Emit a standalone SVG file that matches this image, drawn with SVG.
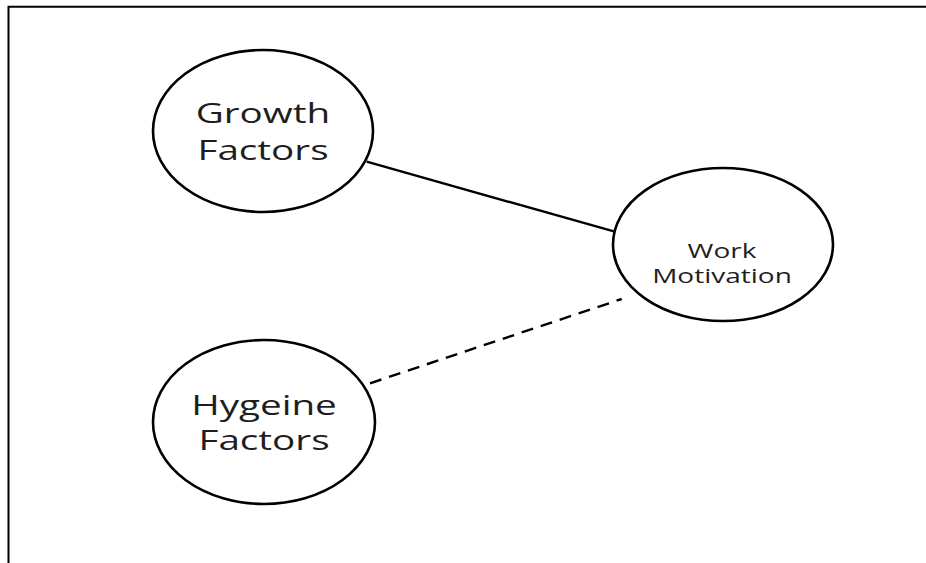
<svg xmlns="http://www.w3.org/2000/svg" width="926" height="563" viewBox="0 0 926 563">
  <style>
    .node { fill: #ffffff; stroke: #000000; stroke-width: 2.6; }
    .label { font-family: "Open Sans", "Liberation Sans", sans-serif; fill: #1e1e1e; text-anchor: middle; }
    .big { font-size: 28px; }
    .small { font-size: 20px; }
    .edge { stroke: #000000; stroke-width: 2.4; fill: none; }
    .dashed { stroke-dasharray: 12 8; }
  </style>
  <rect width="926" height="563" fill="#ffffff"/>
  <!-- open frame: top and left rules -->
  <path d="M8.5 563 V6.8 H926" fill="none" stroke="#000000" stroke-width="2"/>

  <g id="connectors">
    <line class="edge" x1="366.7" y1="161.7" x2="618.3" y2="232.7"/>
    <line class="edge dashed" x1="370" y1="383.3" x2="621.7" y2="299"/>
  </g>

  <g id="growth-factors">
    <ellipse class="node" cx="263" cy="131" rx="110" ry="81"/>
    <g transform="translate(263,0) scale(1.38,1)">
      <text class="label big" x="0" y="123">Growth</text>
      <text class="label big" x="0" y="160">Factors</text>
    </g>
  </g>

  <g id="hygeine-factors">
    <ellipse class="node" cx="264" cy="422" rx="111" ry="82"/>
    <g transform="translate(264,0) scale(1.38,1)">
      <text class="label big" x="0" y="415">Hygeine</text>
      <text class="label big" x="0" y="450">Factors</text>
    </g>
  </g>

  <g id="work-motivation">
    <ellipse class="node" cx="723" cy="244.5" rx="110" ry="76.5"/>
    <g transform="translate(722,0) scale(1.4,1)">
      <text class="label small" x="0" y="258">Work</text>
      <text class="label small" x="0" y="283">Motivation</text>
    </g>
  </g>
</svg>
